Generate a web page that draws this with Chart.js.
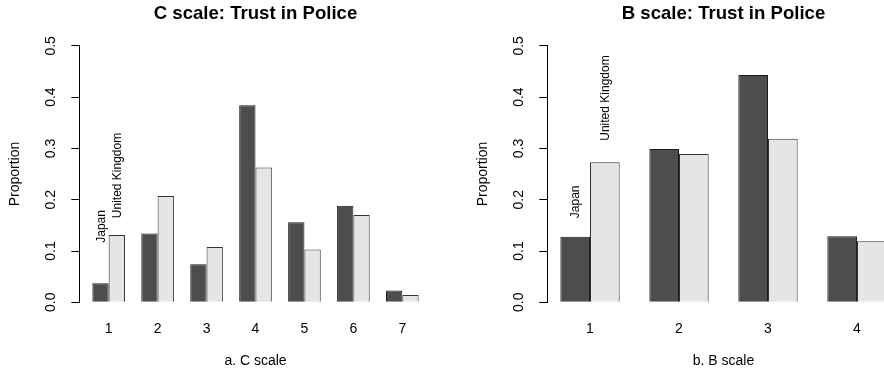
<!DOCTYPE html>
<html>
<head>
<meta charset="utf-8">
<script src="https://cdn.jsdelivr.net/npm/chart.js@4.4.1/dist/chart.umd.min.js"></script>
<style>
  html, body { margin: 0; padding: 0; background: #fff; overflow: hidden; width: 884px; height: 370px; position: relative; }
  canvas { position: absolute; top: 0; }
  #cChart { left: 0; }
  #bChart { left: 468px; }
</style>
</head>
<body>
<canvas id="cChart" width="442" height="370"></canvas>
<canvas id="bChart" width="442" height="370"></canvas>
<script>
var countries = ["Japan", "United Kingdom"];

var cCategories = ["1", "2", "3", "4", "5", "6", "7"];
var cJapan = [0.037, 0.134, 0.074, 0.384, 0.156, 0.188, 0.023];
var cUK = [0.131, 0.207, 0.108, 0.263, 0.103, 0.170, 0.014];

var bCategories = ["1", "2", "3", "4"];
var bJapan = [0.128, 0.299, 0.443, 0.129];
var bUK = [0.273, 0.289, 0.319, 0.119];

var yTicks = [0, 0.1, 0.2, 0.3, 0.4, 0.5];

var FONT = '"Liberation Sans", Arial, sans-serif';

// barplot(beside=TRUE): two bars of width 1 per group, gap of 1 before each group
function groupCenter(i) { return 3 * i + 2; }

// vertical country names above the first group
var countryLabels = {
  id: 'countryLabels',
  afterDatasetsDraw: function(chart, args, opts) {
    var ctx = chart.ctx;
    var yScale = chart.scales.y;
    ctx.save();
    ctx.fillStyle = '#000';
    ctx.font = '12px ' + FONT;
    ctx.textAlign = 'left';
    ctx.textBaseline = 'middle';
    chart.data.datasets.forEach(function(ds, i) {
      var bar = chart.getDatasetMeta(i).data[0];
      ctx.save();
      ctx.translate(bar.x + 1, yScale.getPixelForValue(opts.base[i]));
      ctx.rotate(-Math.PI / 2);
      ctx.fillText(ds.label, 0, 0);
      ctx.restore();
    });
    ctx.restore();
  }
};

function makeChart(id, title, xTitle, cats, japan, uk, labelBase) {
  var n = cats.length;
  // R's xaxs="r": 4% extension on both sides of bar range
  var ext = 0.04 * (3 * n - 1);
  var toPoints = function(vals) {
    return vals.map(function(v, i) { return { x: groupCenter(i), y: v }; });
  };
  return new Chart(document.getElementById(id), {
    type: 'bar',
    data: {
      datasets: [{
        label: countries[0],
        data: toPoints(japan),
        backgroundColor: '#4d4d4d',
        borderColor: '#1a1a1a',
        borderWidth: 1,
        categoryPercentage: 2 / 3,
        barPercentage: 1
      }, {
        label: countries[1],
        data: toPoints(uk),
        backgroundColor: '#e5e5e5',
        borderColor: '#333333',
        borderWidth: 1,
        categoryPercentage: 2 / 3,
        barPercentage: 1
      }]
    },
    options: {
      responsive: false,
      animation: false,
      layout: { padding: { left: 0, right: 10.3, top: 0, bottom: 0 } },
      plugins: {
        legend: { display: false },
        tooltip: { enabled: false },
        title: {
          display: true,
          text: title,
          fullSize: false,
          color: '#000',
          font: { family: FONT, size: 18.6, weight: 'bold' },
          padding: { top: 2.5, bottom: 21 }
        },
        countryLabels: { base: labelBase }
      },
      scales: {
        x: {
          type: 'linear',
          offset: false,
          min: 1 - ext,
          max: 3 * n + ext,
          grid: { display: false },
          border: { display: false },
          afterBuildTicks: function(s) {
            s.ticks = cats.map(function(c, i) { return { value: groupCenter(i) }; });
          },
          afterFit: function(s) { s.height = 67.7; },
          ticks: {
            color: '#000',
            font: { family: FONT, size: 14 },
            padding: 10,
            maxRotation: 0,
            autoSkip: false,
            callback: function(v, i) { return cats[i]; }
          },
          title: {
            display: true,
            text: xTitle,
            color: '#000',
            font: { family: FONT, size: 14 },
            padding: { top: 0, bottom: 0 }
          }
        },
        y: {
          min: 0,
          max: 0.5,
          afterBuildTicks: function(s) {
            s.ticks = yTicks.map(function(v) { return { value: v }; });
          },
          afterFit: function(s) { s.width = 79.3; },
          grid: { drawOnChartArea: false, drawTicks: true, tickLength: 8, color: '#000' },
          border: { display: true, color: '#000' },
          ticks: {
            color: '#000',
            font: { family: FONT, size: 14 },
            minRotation: 90,
            maxRotation: 90,
            crossAlign: 'center',
            padding: 10,
            callback: function(v) { return v.toFixed(1); }
          },
          title: {
            display: true,
            text: 'Proportion',
            color: '#000',
            font: { family: FONT, size: 14 },
            padding: { top: 6.6, bottom: 0 }
          }
        }
      }
    },
    plugins: [countryLabels]
  });
}

makeChart('cChart', 'C scale: Trust in Police', 'a. C scale', cCategories, cJapan, cUK, [0.116, 0.164]);
makeChart('bChart', 'B scale: Trust in Police', 'b. B scale', bCategories, bJapan, bUK, [0.164, 0.315]);
</script>
</body>
</html>
